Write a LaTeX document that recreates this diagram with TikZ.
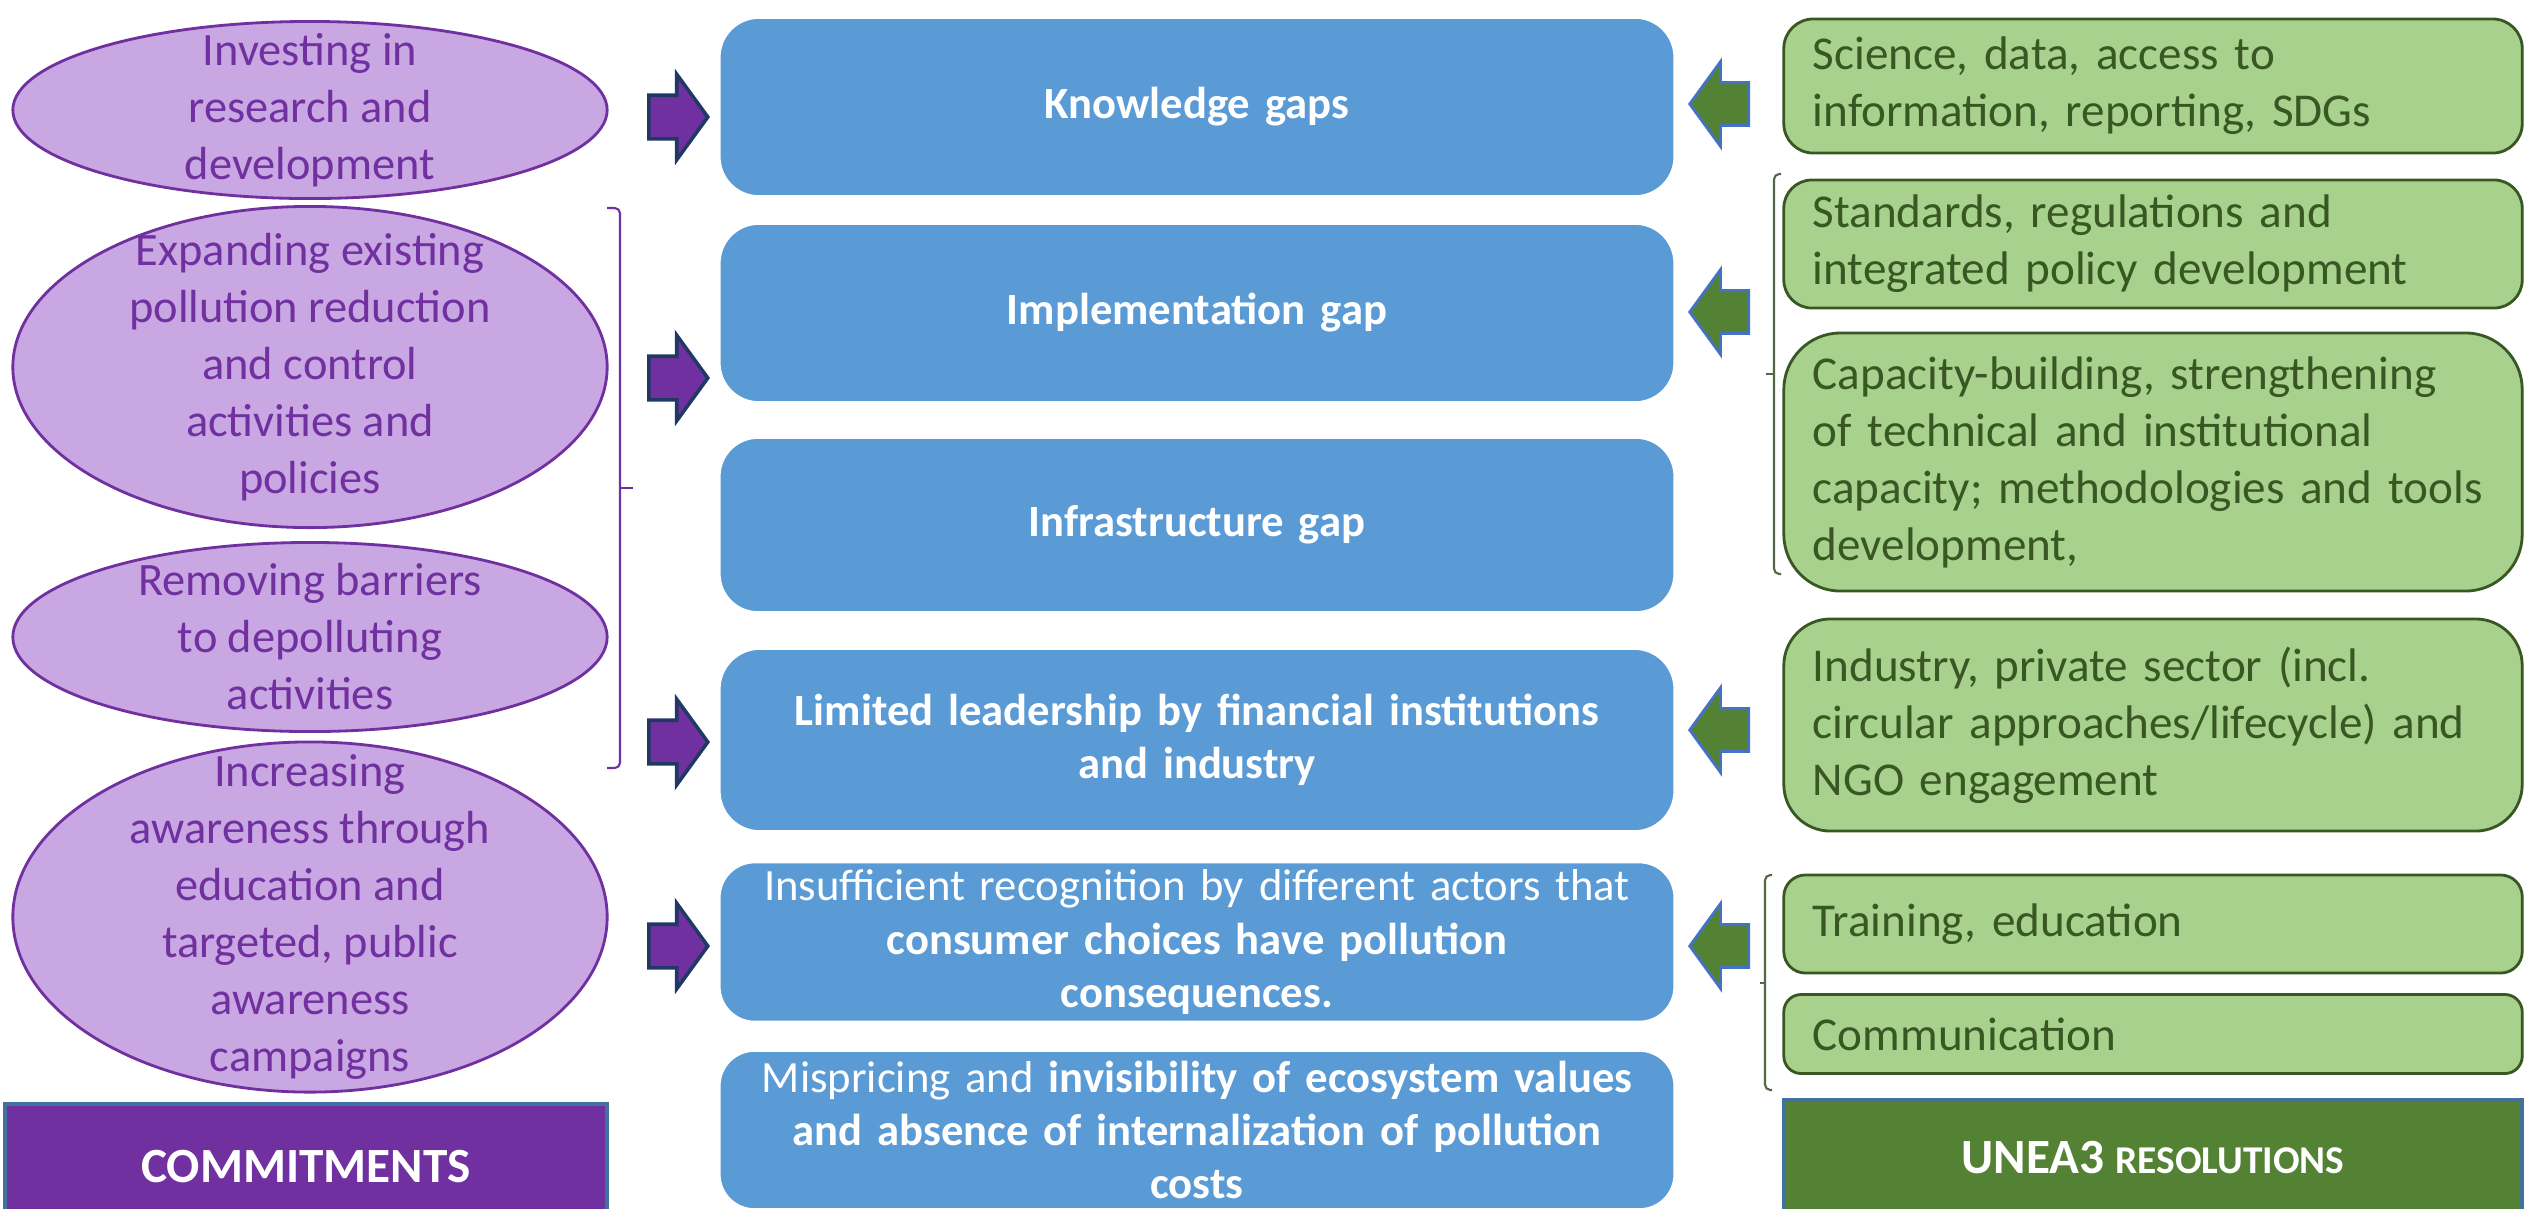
\documentclass[tikz,border=0pt]{standalone}
\usepackage{fontspec}
\setmainfont{Carlito}
\usetikzlibrary{shapes.geometric,shapes.arrows}

\definecolor{commitpurple}{HTML}{7030A0}
\definecolor{commitlilac}{HTML}{C9A7E2}
\definecolor{gapblue}{HTML}{5B9BD5}
\definecolor{resolgreen}{HTML}{548235}
\definecolor{resollight}{HTML}{A9D18E}
\definecolor{resoldark}{HTML}{385723}
\definecolor{arrownavy}{HTML}{203864}
\definecolor{arrowblue}{HTML}{4472C4}
\definecolor{labelborder}{HTML}{41719C}

\begin{document}
\begin{tikzpicture}
[x=0.01cm,y=-0.01cm,
  commitdecorate/.style={shape=ellipse,draw=commitpurple,line width=0.8pt,fill=commitlilac,inner sep=0pt,minimum width=5.94cm},%
  committextdecorate/.style={inner sep=0pt,align=center,text=commitpurple,font=\fontsize{13.2}{16.2}\selectfont},%
  gapdecorate/.style={shape=rectangle,fill=gapblue,draw=white,line width=0.5pt,inner sep=0pt,minimum width=9.54cm,text width=9.3cm,align=center,text=white,font=\fontsize{12.7}{15.1}\selectfont},%
  resoldecorate/.style={shape=rectangle,fill=resollight,draw=resoldark,line width=0.8pt,inner xsep=0.29cm,inner ysep=0pt,minimum width=7.38cm,text width=6.8cm,align=left,text=resoldark,font=\fontsize{13.4}{16.2}\selectfont},%
  commitarrowdecorate/.style={shape=single arrow,fill=commitpurple,draw=arrownavy,line width=1pt,inner xsep=0pt,inner ysep=0.2cm,single arrow head extend=0.21cm,single arrow tip angle=108,minimum height=0.59cm,anchor=tip},%
  resolarrowdecorate/.style={commitarrowdecorate,fill=resolgreen,draw=arrowblue,line width=0.8pt,shape border rotate=180},%
  titledecorate/.style={shape=rectangle,draw=labelborder,line width=1pt,inner sep=0pt,text=white,font=\fontsize{14}{17}\selectfont\bfseries},%
  bracedecorate/.style={-,line width=0.6pt,rounded corners=1.5pt}]
\useasboundingbox (0,0) rectangle (2524,1208);
\clip (0,0) rectangle (2524,1208);
%% commitments (ellipses)
\foreach \nodename/\y/\h/\txt in {
  invest/110/1.77/{Investing in\\research and\\development},
  expand/367/3.21/{Expanding existing\\pollution reduction\\and control\\activities and\\policies},
  barrier/637/1.89/{Removing barriers\\to depolluting\\activities},
  aware/917/3.50/{Increasing\\awareness through\\education and\\targeted, public\\awareness\\campaigns}}
{
  \node (\nodename) at (310,\y) [commitdecorate,minimum height=\h cm] {};
  \node (\nodename-text) at (\nodename) [committextdecorate] {\txt};
}
%% gaps (blue boxes)
\foreach \nodename/\y/\h/\txt in {
  know/107/1.78/{\textbf{Knowledge gaps}},
  implement/313/1.78/{\textbf{Implementation gap}},
  infra/525/1.74/{\textbf{Infrastructure gap}},
  leader/740/1.82/{\textbf{Limited leadership by financial institutions}\\\textbf{and industry}},
  consumer/942/1.59/{Insufficient recognition by different actors that\\\textbf{consumer choices have pollution}\\\textbf{consequences.}},
  pricing/1130/1.58/{Mispricing and \textbf{invisibility of ecosystem values}\\\textbf{and absence of internalization of pollution}\\\textbf{costs}}}
{
  \node (\nodename) at (1197,\y) [gapdecorate,minimum height=\h cm,rounded corners=0.22*\h cm] {\txt};
}
%% resolutions (green boxes)
\foreach \nodename/\y/\h/\txt in {
  science/86/1.34/{Science, data, access to\\information, reporting, SDGs},
  standards/244/1.28/{Standards, regulations and\\integrated policy development},
  capacity/462/2.58/{Capacity-building, strengthening\\of technical and institutional\\capacity; methodologies and tools\\development,},
  industry/725/2.12/{Industry, private sector (incl.\\circular approaches/lifecycle) and\\NGO engagement},
  training/924/0.98/{Training, education},
  communic/1034/0.79/{Communication}}
{
  \node (\nodename) at (2153,\y) [resoldecorate,minimum height=\h cm,rounded corners=0.22*\h cm] {\txt};
}
%% block arrows
\foreach \nodename/\y in {pa1/117, pa2/378, pa3/742, pa4/946}
{
  \node (\nodename) at (710,\y) [commitarrowdecorate] {};
}
\foreach \nodename/\y in {ga1/104, ga2/312, ga3/730, ga4/946}
{
  \node (\nodename) at (1688,\y) [resolarrowdecorate] {};
}
%% braces
\draw[bracedecorate,draw=commitpurple] (607,208) -- (620,208) -- (620,768) -- (607,768);
\draw[bracedecorate,draw=commitpurple] (620,488) -- (633,488);
\draw[bracedecorate,draw=resoldark!60!gray] (1781,174) -- (1774,174) -- (1774,574) -- (1781,574);
\draw[bracedecorate,draw=resoldark!60!gray] (1774,374) -- (1766,374);
\draw[bracedecorate,draw=resoldark!60!gray] (1772,875) -- (1765,875) -- (1765,1090) -- (1772,1090);
\draw[bracedecorate,draw=resoldark!60!gray] (1765,983) -- (1760,983);
%% titles
\node (commit) at (306,1166) [titledecorate,fill=commitpurple,minimum width=6.02cm,minimum height=1.24cm] {COMMITMENTS};
\node (unea) at (2153,1158) [titledecorate,fill=resolgreen,minimum width=7.38cm,minimum height=1.16cm] {UNEA3 {\fontsize{11.2}{14}\selectfont RESOLUTIONS}};
\end{tikzpicture}
\end{document}
